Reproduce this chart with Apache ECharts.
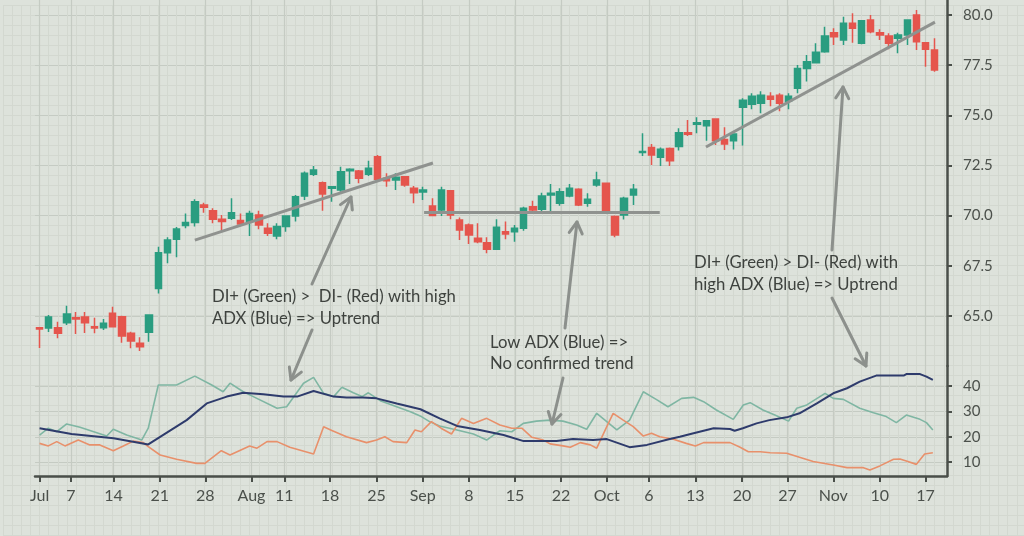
<!DOCTYPE html>
<html><head><meta charset="utf-8">
<script src="https://cdn.jsdelivr.net/npm/echarts@6/dist/echarts.min.js"></script>
<style>html,body{margin:0;padding:0;background:#dde2db;}#c{width:1024px;height:536px;}</style>
</head><body><div id="c"></div>
<script>
// ---- x axis tick positions (in trading-day index units) and labels ----
const tickPos = [0, 3.44, 8.1, 13.15, 18.15, 23.2, 26.8, 31.8, 36.9, 41.95, 47, 52.05, 57.1, 62.1, 66.7, 71.8, 76.9, 81.9, 86.9, 92, 97];
const tickLabels = ['Jul','7','14','21','28','Aug','11','18','25','Sep','8','15','22','Oct','6','13','20','27','Nov','10','17'];
const priceTicks = [65, 67.5, 70, 72.5, 75, 77.5, 80];
const indTicks = [10, 20, 30, 40];

// ---- candles (one per trading day) ----
const opens = [64.41,64.39,64.41,64.66,64.91,64.94,64.46,64.41,65.13,64.96,64.13,63.63,64.18,66.37,68.15,68.82,69.5,69.65,70.53,70.24,
69.82,69.87,69.75,69.7,70.03,69.37,68.98,69.45,69.98,70.98,72.06,71.64,71.36,71.28,72.24,72.22,72.06,72.94,71.86,71.77,
71.94,71.36,71.18,70.48,70.28,71.24,69.78,69.53,68.87,68.65,68.32,69.2,69.2,69.37,70.44,70.31,71.03,70.61,70.98,71.31,
70.61,71.53,71.61,69.95,70.03,71.03,73.14,73.39,72.91,73.35,73.44,74.13,74.55,74.48,74.82,73.8,73.73,75.4,75.55,75.6,
75.95,76.0,75.7,76.35,77.34,77.62,78.17,79.12,78.76,79.59,78.59,79.75,79.12,78.95,78.84,79.0,80.0,78.62,78.26];
const closes = [64.35,64.94,64.13,65.09,64.84,64.66,64.39,64.63,64.46,64.0,63.75,63.46,65.04,68.15,68.78,69.33,69.65,70.69,70.41,69.82,
69.7,70.14,69.58,70.11,69.53,69.12,69.45,69.98,70.94,72.11,72.27,71.08,71.44,72.19,72.31,71.86,72.36,71.81,71.74,71.91,
71.53,71.14,71.28,70.0,71.28,70.03,69.28,69.03,68.7,68.32,69.42,69.08,69.37,70.36,70.28,70.98,71.11,71.19,71.36,70.53,
70.81,71.77,70.19,69.03,70.86,71.31,73.19,73.02,73.31,72.74,74.13,74.05,74.63,74.73,73.73,73.57,74.07,75.75,75.95,76.0,
75.8,75.6,75.95,77.34,77.67,78.14,78.95,78.92,79.59,79.34,79.72,79.17,79.0,78.59,79.0,79.75,78.67,78.29,77.26];
const lows = [63.4,64.2,63.88,64.54,64.1,64.15,64.13,64.3,64.44,63.66,63.38,63.25,63.71,66.12,67.62,67.92,69.37,69.45,70.14,69.62,
69.25,69.78,69.5,68.98,69.32,68.98,68.82,69.2,69.7,70.78,71.97,70.24,70.69,71.19,71.57,71.61,71.97,71.78,71.44,71.28,
71.44,70.61,70.78,69.98,69.98,69.82,68.78,68.58,68.62,68.12,68.3,68.82,68.7,69.25,70.14,70.11,70.19,70.49,70.91,70.48,
70.44,71.44,70.08,68.92,69.81,70.53,72.97,72.52,72.47,72.47,73.24,73.97,74.1,73.73,73.52,73.27,73.3,73.5,75.3,75.1,
75.45,75.2,75.3,76.1,76.68,77.59,78.12,78.51,78.51,78.62,78.54,79.09,78.76,78.29,78.09,78.51,78.26,77.42,77.17];
const highs = [64.45,65.04,64.71,65.51,65.19,65.19,64.91,64.84,65.46,65.0,64.21,63.93,65.06,68.45,68.92,69.43,70.11,70.81,70.64,70.36,
70.03,70.86,70.11,70.24,70.24,69.62,69.62,70.0,71.03,72.2,72.47,71.7,71.44,72.44,72.36,72.27,72.74,73.02,72.11,72.11,
71.96,71.48,71.44,70.86,71.44,71.26,69.91,69.6,69.62,68.92,69.82,69.7,69.53,70.44,70.74,71.14,71.57,71.36,71.57,71.36,
71.11,72.19,71.63,70.0,70.94,71.57,74.1,73.57,73.39,73.4,74.35,74.77,74.9,74.76,74.84,74.4,74.09,75.85,76.1,76.2,
76.15,76.1,76.1,77.51,78.01,78.59,79.42,79.34,79.92,80.09,79.75,80.0,79.29,79.09,79.12,79.79,80.25,78.62,78.84];

// ---- indicator lines: [day index, value] read at the line's vertices ----
const adx = [[0,23.4],[3.5,21.1],[8.1,19.4],[11.9,17.0],[13.2,20.0],[16.1,26.6],[18.3,33.2],[20.5,35.9],[22.3,37.4],[24.5,36.8],
[26.7,35.9],[28.2,35.9],[30.0,38.1],[32.2,35.9],[33.6,35.5],[35.4,35.5],[36.9,35.2],[39.1,33.2],[41.7,30.9],[43.8,27.3],
[45.7,24.3],[48.2,22.7],[50.8,20.7],[53.0,18.3],[56.6,18.3],[58.4,19.1],[60.6,18.7],[62.1,19.1],[64.6,15.9],[66.5,16.8],
[69.0,19.1],[70.1,20.0],[71.6,21.4],[73.8,23.4],[75.6,23.1],[76.1,22.4],[77.0,23.4],[78.5,25.3],[79.9,26.6],[81.8,27.7],
[83.2,29.3],[85.1,33.2],[86.9,37.2],[88.4,39.2],[89.8,41.8],[91.6,44.2],[94.6,44.2],[94.9,44.8],[96.4,44.8],[97.1,43.8],[97.8,42.5]];
const diPlus = [[0,20.7],[0.96,23.4],[1.88,22.0],[2.97,25.1],[4.43,23.8],[7.35,20.3],[8.07,23.0],[9.54,20.7],[10.63,19.4],[11.18,18.7],
[11.9,23.4],[13.0,40.5],[15.0,40.5],[17.0,44.0],[18.85,40.5],[20.1,37.8],[20.85,41.2],[22.3,37.8],[23.4,35.9],[26.0,31.3],
[27.05,31.9],[28.9,41.2],[30.0,43.5],[31.1,37.2],[32.2,35.9],[33.1,39.6],[34.35,37.4],[35.3,35.9],[36.0,37.4],[37.3,34.3],
[39.1,31.9],[40.6,29.9],[41.8,28.0],[42.7,26.0],[43.8,24.3],[45.7,22.7],[47.5,21.1],[48.95,18.7],[49.7,20.7],[50.4,22.4],
[51.7,22.0],[52.96,25.3],[54.4,26.2],[55.9,26.6],[57.3,26.2],[58.8,24.7],[59.9,23.0],[61.0,29.3],[63.2,22.7],[64.6,26.6],
[66.1,37.8],[67.6,34.6],[68.8,31.9],[70.3,35.2],[71.6,35.6],[72.7,33.9],[74.1,30.6],[75.95,26.9],[77.05,32.6],[77.8,33.5],
[79.2,30.6],[80.5,28.6],[82.0,26.2],[82.9,31.3],[84.0,32.6],[86.0,37.2],[86.9,35.2],[88.0,34.8],[89.8,31.3],[91.3,29.5],
[92.7,28.0],[93.8,25.6],[94.9,28.6],[96.4,26.9],[97.1,25.6],[97.8,22.7]];
const diMinus = [[0,17.4],[0.96,16.4],[1.88,18.1],[2.78,16.4],[4.24,18.7],[5.5,16.8],[6.6,16.8],[8.07,14.5],[9.17,16.4],[10.26,18.3],
[11.36,17.7],[11.9,16.1],[13.2,12.8],[15.0,11.1],[17.2,9.5],[18.1,9.5],[19.9,14.5],[20.85,12.8],[23.0,16.4],[23.8,15.5],
[24.9,18.1],[26.0,18.1],[27.4,15.85],[30.0,13.2],[31.1,24.0],[32.0,22.5],[33.6,20.0],[35.8,17.7],[36.9,18.7],[37.8,20.0],
[38.7,18.1],[40.2,17.7],[41.1,22.7],[41.8,22.0],[42.9,26.0],[44.0,23.3],[45.1,21.1],[46.2,27.3],[47.5,25.3],[48.95,27.3],
[50.4,24.7],[51.7,23.4],[52.8,23.4],[53.9,19.8],[55.15,18.7],[55.9,17.2],[57.3,16.4],[58.1,15.85],[59.2,17.7],[60.3,16.8],
[61.0,15.5],[62.1,24.0],[62.8,29.3],[63.9,26.6],[65.0,24.0],[66.1,20.3],[67.0,21.4],[67.9,20.0],[69.4,19.0],[70.8,17.4],
[71.8,16.4],[72.7,17.7],[75.6,17.7],[76.7,15.85],[77.6,14.1],[78.9,14.1],[80.0,13.7],[81.8,13.5],[83.2,11.9],[84.7,10.2],
[86.9,8.85],[88.4,7.8],[90.2,7.8],[90.9,6.9],[92.0,8.5],[93.5,11.1],[94.2,11.2],[94.9,10.4],[96.0,9.1],[96.9,13.2],[97.8,13.7]];

// ---- drawn trend lines (day index, price) ----
const trendLines = [[[17.0,68.78],[43.07,72.62]], [[42.1,70.18],[67.9,70.18]], [[72.96,73.42],[98.03,79.65]]];

const candleData = opens.map((o, i) => [i, o, closes[i], lows[i], highs[i]]);

const AX = '#4a4f4a', MAJOR = '#c5cbc3', MINOR = '#d3d8d0', FONT = 'Lato';
const GREEN = '#2a9d80', RED = '#e5554d';
const ARROW = '#8c908c', TXT = '#3e423e';

function arrow(x1, y1, x2, y2) {
  const dx = x2 - x1, dy = y2 - y1, L = Math.hypot(dx, dy), ux = dx / L, uy = dy / L;
  const a = Math.PI / 6, len = 13;
  const rot = (s) => [x2 - len * (ux * Math.cos(s * a) - uy * Math.sin(s * a)), y2 - len * (uy * Math.cos(s * a) + ux * Math.sin(s * a))];
  return [
    { type: 'line', shape: { x1, y1, x2, y2 }, style: { stroke: ARROW, lineWidth: 3, lineCap: 'round' }, z: 50 },
    { type: 'polyline', shape: { points: [rot(1), [x2, y2], rot(-1)] }, style: { stroke: ARROW, lineWidth: 3, fill: null, lineCap: 'round', lineJoin: 'round' }, z: 50 }
  ];
}
function txt(x, y, t) {
  return { type: 'text', z: 50, style: { x, y, text: t, fill: TXT, font: '16.7px Lato', verticalAlign: 'middle', align: 'left' } };
}

const chart = echarts.init(document.getElementById('c'), null, { renderer: 'canvas' });
const nearestLabel = (v) => { let b = 0; for (let i = 0; i < tickPos.length; i++) if (Math.abs(tickPos[i] - v) < Math.abs(tickPos[b] - v)) b = i; return tickLabels[b]; };

chart.setOption({
  animation: false,
  backgroundColor: '#dde2db',
  grid: [
    { left: 3, right: 0, top: 5, bottom: 0 },
    { left: 35, right: 77, top: 0, height: 366 },
    { left: 35, right: 77, top: 366, height: 110 }
  ],
  xAxis: [
    { type: 'value', gridIndex: 0, min: 0, max: 1021, interval: 9.134, axisLine: { show: false }, axisTick: { show: false }, axisLabel: { show: false }, splitLine: { show: true, lineStyle: { color: MINOR, width: 1 } } },
    { type: 'value', gridIndex: 1, min: -0.5, max: 99.35, axisLine: { show: false, onZero: false }, axisTick: { show: false, customValues: tickPos }, axisLabel: { show: false, customValues: tickPos }, splitLine: { show: true, lineStyle: { color: MAJOR, width: 1.2 } } },
    { type: 'value', gridIndex: 2, min: -0.5, max: 99.35,
      axisLine: { show: true, onZero: false, lineStyle: { color: AX, width: 2.5 } },
      axisTick: { show: true, customValues: tickPos, length: 6, lineStyle: { color: AX, width: 2 } },
      axisLabel: { customValues: tickPos, formatter: nearestLabel, fontSize: 16, fontFamily: FONT, color: '#4b504b', margin: 12 },
      splitLine: { show: true, lineStyle: { color: MAJOR, width: 1.2 } } }
  ],
  yAxis: [
    { type: 'value', gridIndex: 0, inverse: true, min: 0, max: 531, interval: 10, axisLine: { show: false, onZero: false }, axisTick: { show: false }, axisLabel: { show: false }, splitLine: { show: true, lineStyle: { color: MINOR, width: 1 } } },
    { type: 'value', gridIndex: 1, position: 'right', min: 62.5, max: 80.75,
      axisLine: { show: true, onZero: false, lineStyle: { color: AX, width: 2.5 } },
      axisTick: { show: true, customValues: priceTicks, length: 5, lineStyle: { color: AX, width: 2 } },
      axisLabel: { customValues: priceTicks, formatter: (v) => v.toFixed(1), fontSize: 15, fontFamily: FONT, color: '#4b504b', margin: 16 },
      splitLine: { show: true, lineStyle: { color: MAJOR, width: 1.2 } } },
    { type: 'value', gridIndex: 2, position: 'right', min: 4.5, max: 48,
      axisLine: { show: true, onZero: false, lineStyle: { color: AX, width: 2.5 } },
      axisTick: { show: true, customValues: indTicks, length: 5, lineStyle: { color: AX, width: 2 } },
      axisLabel: { customValues: indTicks, formatter: (v) => String(v), fontSize: 15, fontFamily: FONT, color: '#4b504b', margin: 16 },
      splitLine: { show: true, lineStyle: { color: MAJOR, width: 1.2 } } }
  ],
  series: [
    { type: 'candlestick', xAxisIndex: 1, yAxisIndex: 1, data: candleData, encode: { x: 0, y: [1, 2, 3, 4] }, barWidth: 7,
      itemStyle: { color: GREEN, color0: RED, borderColor: GREEN, borderColor0: RED, borderWidth: 1.5 },
      markLine: { silent: true, symbol: ['none', 'none'], label: { show: false },
        lineStyle: { color: '#8f928f', width: 3, type: 'solid' },
        data: trendLines.map(t => [{ coord: t[0] }, { coord: t[1] }]) } },
    { type: 'line', name: 'DI+', xAxisIndex: 2, yAxisIndex: 2, data: diPlus, showSymbol: false, lineStyle: { color: '#7fb6a3', width: 1.6 } },
    { type: 'line', name: 'DI-', xAxisIndex: 2, yAxisIndex: 2, data: diMinus, showSymbol: false, lineStyle: { color: '#e8906b', width: 1.6 } },
    { type: 'line', name: 'ADX', xAxisIndex: 2, yAxisIndex: 2, data: adx, showSymbol: false, lineStyle: { color: '#2e3b6c', width: 2 } }
  ],
  graphic: [].concat(
    arrow(312, 284, 351, 197), arrow(312, 330, 291, 380),
    arrow(565, 328, 577, 222), arrow(563, 378, 552, 424),
    arrow(832, 250, 843, 87), arrow(832, 298, 866, 366),
    [txt(212, 296.5, 'DI+ (Green) >  DI- (Red) with high'), txt(212, 318.3, 'ADX (Blue) => Uptrend'),
     txt(490, 342.3, 'Low ADX (Blue) =>'), txt(490, 364, 'No confirmed trend'),
     txt(694, 262.5, 'DI+ (Green) > DI- (Red) with'), txt(694, 284.5, 'high ADX (Blue) => Uptrend')]
  )
});
</script>
</body></html>
